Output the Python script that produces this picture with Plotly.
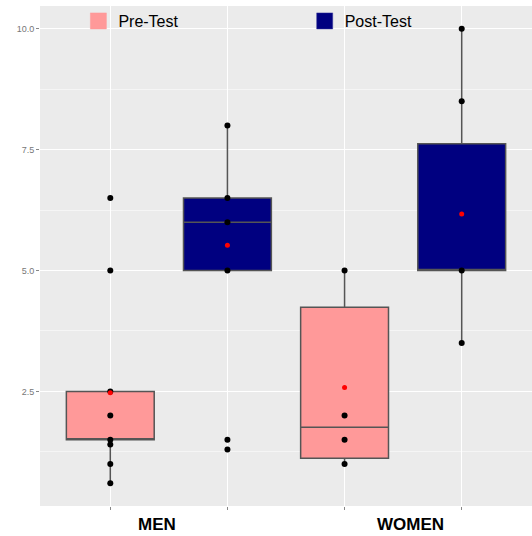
import plotly.graph_objects as go

# ---- data ----
categories = ["MEN", "WOMEN"]
groups = ["Pre-Test", "Post-Test"]

# box statistics per (category, group)
men_pre_stats = dict(lowerfence=0.6, q1=1.5, median=1.5, q3=2.5, upperfence=2.5, mean=2.47)
men_post_stats = dict(lowerfence=5.0, q1=5.0, median=6.0, q3=6.5, upperfence=8.0, mean=5.52)
women_pre_stats = dict(lowerfence=1.0, q1=1.12, median=1.76, q3=4.24, upperfence=5.0, mean=2.58)
women_post_stats = dict(lowerfence=3.5, q1=5.0, median=5.0, q3=7.62, upperfence=10.0, mean=6.17)

# individual observations drawn as black dots
men_pre_pts = [6.5, 5.0, 2.5, 2.0, 1.5, 1.4, 1.0, 0.6]
men_post_pts = [8.0, 6.5, 6.0, 5.0, 1.5, 1.3]
women_pre_pts = [5.0, 2.0, 1.5, 1.0]
women_post_pts = [10.0, 8.5, 5.0, 3.5]

y_tickvals = [2.5, 5.0, 7.5, 10.0]
y_ticktext = ["2.5", "5.0", "7.5", "10.0"]

colors = {"Pre-Test": "#FF9999", "Post-Test": "#000080"}

cells = [
    ("MEN", "Pre-Test", men_pre_stats, men_pre_pts),
    ("MEN", "Post-Test", men_post_stats, men_post_pts),
    ("WOMEN", "Pre-Test", women_pre_stats, women_pre_pts),
    ("WOMEN", "Post-Test", women_post_stats, women_post_pts),
]

fig = go.Figure()

def pos(cat, grp):
    return categories.index(cat) * 2 + groups.index(grp)

# boxes
for cat, grp, st, pts in cells:
    x = pos(cat, grp)
    fig.add_trace(go.Box(
        x=[x], q1=[st["q1"]], median=[st["median"]], q3=[st["q3"]],
        lowerfence=[st["lowerfence"]], upperfence=[st["upperfence"]],
        width=0.75, whiskerwidth=0,
        fillcolor=colors[grp],
        line=dict(color="#555555", width=1.5),
        boxpoints=False, showlegend=False, hoverinfo="skip",
    ))

# points
for cat, grp, st, pts in cells:
    x = pos(cat, grp)
    fig.add_trace(go.Scatter(
        x=[x] * len(pts), y=pts, mode="markers",
        marker=dict(color="black", size=6), showlegend=False, hoverinfo="skip",
    ))

# means
for cat, grp, st, pts in cells:
    x = pos(cat, grp)
    fig.add_trace(go.Scatter(
        x=[x], y=[st["mean"]], mode="markers",
        marker=dict(color="#FF0000", size=5), showlegend=False, hoverinfo="skip",
    ))

# legend entries (one legend box per entry to place them like the reference)
for grp, lg in zip(groups, ["legend", "legend2"]):
    fig.add_trace(go.Scatter(
        x=[None], y=[None], mode="markers", name=grp, legend=lg,
        marker=dict(symbol="square", size=16, color=colors[grp],
                    line=dict(color="#333399" if grp == "Post-Test" else colors[grp], width=0.5)),
    ))

for cat, px in zip(categories, [0.2388, 0.754]):
    fig.add_annotation(
        text="<b>%s</b>" % cat, x=px, y=-0.036, xref="paper", yref="paper",
        xanchor="center", yanchor="middle", showarrow=False,
        font=dict(family="Liberation Sans, Arial", size=17, color="black"),
    )

legend_common = dict(
    orientation="h", y=1.004, xanchor="left", yanchor="top",
    bgcolor="rgba(0,0,0,0)", font=dict(size=16, color="black"),
    itemclick=False, borderwidth=0,
)

fig.update_layout(
    width=532, height=536,
    margin=dict(l=40, r=0, t=6, b=30),
    paper_bgcolor="white", plot_bgcolor="#EBEBEB",
    font=dict(family="Liberation Sans, Arial", color="black"),
    legend=dict(x=0.078, **legend_common),
    legend2=dict(x=0.538, **legend_common),
    xaxis=dict(
        range=[-0.6, 3.6], tickvals=[0, 1, 2, 3], ticktext=["", "", "", ""],
        showgrid=True, gridcolor="white", gridwidth=1.2, zeroline=False,
        ticks="outside", ticklen=3, tickcolor="#888888", showline=False,
    ),
    yaxis=dict(
        range=[0.13, 10.47], tickvals=y_tickvals, ticktext=y_ticktext,
        showgrid=True, gridcolor="white", gridwidth=1.2, zeroline=False,
        ticks="outside", ticklen=3, tickcolor="#888888",
        tickfont=dict(size=9, color="#777777"),
        minor=dict(tick0=0, dtick=1.25, showgrid=True, gridcolor="#F5F5F5", gridwidth=0.6),
    ),
)

fig.write_html(
    "out.html",
    config={"displayModeBar": False},
    post_script="document.body.style.margin='0px';document.body.style.overflow='hidden';",
)
